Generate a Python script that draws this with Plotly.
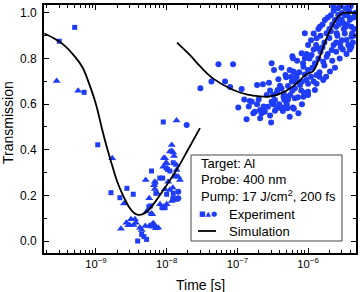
import plotly.graph_objects as go

# ---------------- data ----------------
sq_t = [3.03e-10, 5.0e-10, 6.8e-10, 1.06e-9, 8.96e-9, 1.63e-9, 2.18e-9, 2.74e-9, 3.37e-9,
        3.89e-9, 4.43e-9, 4.77e-9, 5.2e-9, 6.1e-9, 5.9e-9, 8.6e-9, 8.0e-9, 8.8e-9, 9.8e-9,
        1.03e-8, 1.11e-8, 1.0e-8, 9.5e-9, 1.24e-8, 1.31e-8, 1.39e-8, 7.06e-9, 1.24e-8,
        5.6e-9, 6.9e-9]
sq_v = [0.876, 0.937, 0.652, 0.422, 0.522, 0.212, 0.19, 0.231, 0.205,
        0.0, 0.029, 0.019, 0.007, 0.307, 0.154, 0.146, 0.276, 0.276, 0.321,
        0.314, 0.307, 0.205, 0.146, 0.343, 0.285, 0.183, 0.209, 0.209,
        0.15, 0.255]

tri_t = [2.78e-10, 5.6e-10, 1.7e-9, 5.05e-9, 2.49e-9, 2.26e-9, 2.86e-9, 3.13e-9, 3.56e-9,
         3.68e-9, 4.19e-9, 4.98e-9, 5.67e-9, 6.61e-9, 7.6e-9, 5.67e-9, 6.25e-9, 6.61e-9,
         8.04e-9, 9.1e-9, 9.8e-9, 9.46e-9, 1.0e-8, 1.18e-8, 1.27e-8, 1.22e-8, 1.18e-8,
         1.38e-8, 1.18e-8, 1.11e-8, 1.24e-8, 9.5e-9, 1.0e-8, 1.38e-8, 8.96e-9, 1.38e-8,
         6.8e-9, 1.05e-8, 1.46e-8, 1.54e-8, 6.8e-9, 1.11e-8, 8.96e-9, 6.1e-9, 6.45e-9,
         7.06e-9, 6.3e-9, 5.2e-9, 3.4e-9, 4.43e-9, 6.1e-9, 2.7e-9, 3.0e-9, 7.3e-9]
tri_v = [0.702, 0.659, 0.363, 0.268, 0.165, 0.054, 0.069, 0.095, 0.095,
         0.08, 0.058, 0.066, 0.066, 0.073, 0.058, 0.187, 0.117, 0.244,
         0.161, 0.364, 0.343, 0.227, 0.161, 0.395, 0.373, 0.234, 0.175,
         0.528, 0.421, 0.392, 0.388, 0.363, 0.341, 0.333, 0.326, 0.311,
         0.26, 0.26, 0.282, 0.268, 0.228, 0.224, 0.15, 0.121, 0.078,
         0.056, 0.063, 0.129, 0.07, 0.048, 0.07, 0.08, 0.07, 0.21]

circ_t = [1.92e-8, 1.46e-8, 1.24e-8, 1.46e-8,
          3.0e-8, 4.3e-8, 5.4e-8, 8.7e-8, 6.7e-8, 7.9e-8,
          1.15e-7, 1.25e-7, 1.5e-7, 1.6e-7, 2.0e-7, 1.77e-7, 1.03e-7, 1.35e-7, 2.1e-7, 2.2e-7,
          1.9e-7, 2.3e-7, 2.8e-7, 2.6e-7, 3.05e-7, 3.3e-7, 2.7e-7, 3.05e-7, 3.4e-7, 3.8e-7,
          4.0e-7, 4.2e-7, 3.7e-7, 4.5e-7, 5.0e-7, 5.2e-7, 4.8e-7, 5.9e-7, 6.5e-7, 6.1e-7,
          7.0e-7, 5.5e-7, 6.9e-7, 4.2e-7, 5.1e-7, 5.5e-7, 1.68e-7, 2.1e-7, 3.4e-7, 2.45e-7,
          7.3e-7, 3.6e-7, 4.9e-7, 4.9e-7, 7.7e-7, 4.5e-7, 6.5e-7, 6.2e-7, 6.9e-7, 8.1e-7,
          9.0e-7, 8.6e-7, 9.5e-7, 9.0e-7,
          1.0e-6, 1.0e-6, 1.12e-6, 1.25e-6, 1.32e-6, 1.25e-6, 1.64e-6, 2.04e-6, 1.64e-6, 1.39e-6,
          1.83e-6, 2.16e-6, 1.32e-6, 1.47e-6, 1.73e-6, 2.27e-6, 2.83e-6, 3.7e-6, 3.9e-6, 4.1e-6,
          4.1e-6, 2.54e-6, 2.83e-6, 3.5e-6, 1.83e-6, 2.4e-6, 3.15e-6, 3.3e-6, 2.67e-6,
          2.3e-6, 2.6e-6, 3.0e-6, 3.4e-6, 3.8e-6, 2.1e-6, 3.6e-6, 4.0e-6, 2.9e-6,
          1.6e-6, 1.9e-6, 2.2e-6, 2.5e-6, 2.8e-6, 3.2e-6, 3.6e-6, 4.1e-6, 2.0e-6, 1.4e-6, 3.9e-6, 2.7e-6,
          1.1e-6, 1.3e-6, 1.5e-6, 1.7e-6, 2.0e-6, 2.3e-6, 2.6e-6, 3.0e-6, 3.3e-6, 3.7e-6, 4.2e-6,
          1.2e-6, 2.1e-6, 2.9e-6, 1.6e-6, 3.9e-6,
          8.5e-7, 9.5e-7, 1.05e-6, 1.15e-6, 1.4e-6, 1.5e-6, 1.7e-6, 1.9e-6, 2.2e-6, 2.5e-6, 2.8e-6,
          3.1e-6, 3.5e-6, 2.4e-6, 1.2e-6,
          5.8e-7, 6.6e-7, 7.5e-7, 8.2e-7, 9.0e-7, 1.0e-6, 1.1e-6, 1.2e-6, 1.45e-6, 1.8e-6, 8.0e-7,
          5.2e-7, 6.0e-7,
          3.2e-7, 3.9e-7, 4.6e-7, 5.6e-7, 7.2e-7, 8.8e-7, 1.0e-6, 2.9e-7, 3.6e-7,
          1.45e-7, 1.9e-7, 2.35e-7, 2.9e-7, 3.2e-7, 4.4e-7, 6.3e-7, 8.2e-7, 3.0e-7,
          4.2e-7, 6.0e-7, 5.0e-7, 6.1e-7, 4.3e-7, 8.6e-7, 1.0e-6, 1.32e-6, 1.45e-6,
          4.4e-6, 4.5e-6, 4.3e-6, 4.6e-6, 4.4e-6, 3.4e-6, 3.0e-6, 2.5e-6]
circ_v = [0.509, 0.216, 0.187, 0.187,
          0.670, 0.699, 0.775, 0.775, 0.699, 0.675,
          0.667, 0.621, 0.614, 0.611, 0.621, 0.567, 0.586, 0.534, 0.575, 0.56,
          0.684, 0.687, 0.694, 0.64, 0.779, 0.75, 0.589, 0.611, 0.618, 0.709,
          0.681, 0.67, 0.662, 0.648, 0.633, 0.621, 0.728, 0.699, 0.67, 0.801,
          0.791, 0.75, 0.735, 0.582, 0.582, 0.545, 0.56, 0.538, 0.571, 0.567,
          0.56, 0.582, 0.718, 0.611, 0.684, 0.633, 0.626, 0.743, 0.718, 0.823,
          0.801, 0.764, 0.706, 0.911,
          0.86, 0.75, 0.816, 0.779, 0.728, 0.662, 0.706, 0.743, 0.786, 0.845,
          0.808, 0.838, 0.889, 0.94, 0.969, 1.028, 1.028, 1.028, 0.977, 0.896,
          0.852, 0.911, 0.867, 0.882, 0.911, 0.969, 0.955, 0.991, 0.991,
          1.01, 1.02, 1.0, 1.02, 1.01, 0.99, 0.99, 1.03, 1.03,
          0.95, 0.98, 0.95, 0.94, 0.97, 0.93, 0.95, 0.94, 0.93, 0.93, 0.97, 0.95,
          0.88, 0.86, 0.9, 0.87, 0.89, 0.86, 0.9, 0.88, 0.91, 0.86, 0.91,
          0.91, 0.92, 0.85, 0.85, 0.84,
          0.78, 0.82, 0.8, 0.76, 0.8, 0.83, 0.77, 0.82, 0.79, 0.83, 0.8,
          0.84, 0.82, 0.76, 0.84,
          0.72, 0.7, 0.74, 0.7, 0.73, 0.69, 0.72, 0.7, 0.74, 0.72, 0.66,
          0.68, 0.66,
          0.64, 0.6, 0.62, 0.64, 0.63, 0.65, 0.64, 0.66, 0.65,
          0.59, 0.6, 0.59, 0.55, 0.6, 0.57, 0.58, 0.6, 0.52,
          0.76, 0.81, 0.6, 0.585, 0.585, 0.633, 0.655, 0.69, 0.72,
          0.98, 0.93, 0.87, 1.0, 0.9, 0.94, 0.97, 0.87]

sim1_t = [1.86e-10, 2.5e-10, 3.5e-10, 5e-10, 6.5e-10, 8e-10, 1.0e-9, 1.2e-9, 1.4e-9, 1.7e-9,
          2.0e-9, 2.5e-9, 3.0e-9, 3.5e-9, 4.0e-9, 4.6e-9, 5.5e-9, 7.0e-9, 1.0e-8, 1.4e-8,
          2.0e-8, 2.96e-8]
sim1_v = [0.91, 0.89, 0.86, 0.81, 0.76, 0.69, 0.60, 0.50, 0.42, 0.33,
          0.26, 0.19, 0.145, 0.122, 0.115, 0.118, 0.135, 0.175, 0.245, 0.315,
          0.40, 0.495]

sim2_t = [1.4e-8, 2.14e-8, 2.96e-8, 4.56e-8, 8.75e-8, 1.35e-7, 2.09e-7, 2.89e-7, 4.46e-7,
          6.11e-7, 7.68e-7, 9.33e-7, 1.18e-6, 1.47e-6, 1.83e-6, 2.27e-6, 2.67e-6, 3.15e-6,
          4.76e-6]
sim2_v = [0.87, 0.815, 0.767, 0.712, 0.662, 0.643, 0.634, 0.634, 0.652,
          0.678, 0.705, 0.73, 0.745, 0.81, 0.89, 0.95, 0.985, 1.0,
          1.0]

BLUE = "#1f3cf8"
FONT = "Liberation Sans, Arial, Helvetica, sans-serif"

fig = go.Figure()
fig.add_trace(go.Scatter(x=circ_t, y=circ_v, mode="markers",
                         marker=dict(symbol="circle", size=6, color=BLUE), showlegend=False))
fig.add_trace(go.Scatter(x=sq_t, y=sq_v, mode="markers",
                         marker=dict(symbol="square", size=5, color=BLUE), showlegend=False))
fig.add_trace(go.Scatter(x=tri_t, y=tri_v, mode="markers",
                         marker=dict(symbol="triangle-up", size=7, color=BLUE), showlegend=False))
fig.add_trace(go.Scatter(x=sim1_t, y=sim1_v, mode="lines",
                         line=dict(color="black", width=1.8, shape="spline"), showlegend=False))
fig.add_trace(go.Scatter(x=sim2_t, y=sim2_v, mode="lines",
                         line=dict(color="black", width=1.8, shape="spline"), showlegend=False))

axis_common = dict(showline=True, linecolor="black", linewidth=1.6, mirror="ticks",
                   ticks="inside", ticklen=5, tickwidth=1.2, tickcolor="black",
                   showgrid=False, zeroline=False, automargin=False)

fig.update_xaxes(type="log", range=[-9.735, -5.322], dtick=1, exponentformat="power",
                 tickfont=dict(size=9, family=FONT, color="black"),
                 minor=dict(ticks="inside", ticklen=3, dtick="D1", tickcolor="black", tickwidth=1),
                 **axis_common)
fig.update_yaxes(range=[-0.0526, 1.035], dtick=0.2, tickformat=".1f",
                 tickfont=dict(size=12, family=FONT, color="black"),
                 ticklabelstandoff=3,
                 minor=dict(ticks="inside", ticklen=3, dtick=0.1, tickcolor="black", tickwidth=1),
                 **axis_common)

# geometry of plot area in pixels -> paper coords
W, H, L, T = 312.0, 248.0, 44.0, 5.0
def px(x):
    return (x - L) / W
def py(y):
    return (T + H - y) / H

# axis titles
fig.add_annotation(xref="paper", yref="paper", x=px(200.5), y=py(285),
                   text="Time [s]", showarrow=False, xanchor="center", yanchor="middle",
                   font=dict(size=14, family=FONT, color="black"))
fig.add_annotation(xref="paper", yref="paper", x=px(8), y=py(123),
                   text="Transmission", showarrow=False, xanchor="center", yanchor="middle",
                   textangle=-90, font=dict(size=14, family=FONT, color="black"))

# legend box
fig.add_shape(type="rect", xref="paper", yref="paper",
              x0=px(191), x1=px(342), y0=py(241), y1=py(155),
              line=dict(color="#444444", width=1), fillcolor="white", layer="above")
lines = ["Target: Al", "Probe: 400 nm", "Pump: 17 J/cm<sup>2</sup>, 200 fs"]
for i, s in enumerate(lines):
    fig.add_annotation(xref="paper", yref="paper", x=px(199), y=py(163 + i * 16.5),
                       text=s, showarrow=False, xanchor="left", yanchor="middle",
                       font=dict(size=13, family=FONT, color="black"))
fig.add_annotation(xref="paper", yref="paper", x=px(197), y=py(214),
                   text="■▲●", showarrow=False, xanchor="left", yanchor="middle",
                   font=dict(size=7, family="DejaVu Sans", color=BLUE))
fig.add_annotation(xref="paper", yref="paper", x=px(227), y=py(214),
                   text="Experiment", showarrow=False, xanchor="left", yanchor="middle",
                   font=dict(size=13, family=FONT, color="black"))
fig.add_shape(type="line", xref="paper", yref="paper", x0=px(198), x1=px(216),
              y0=py(231), y1=py(231), line=dict(color="black", width=1.8), layer="above")
fig.add_annotation(xref="paper", yref="paper", x=px(227), y=py(231),
                   text="Simulation", showarrow=False, xanchor="left", yanchor="middle",
                   font=dict(size=13, family=FONT, color="black"))

fig.update_layout(width=360, height=292, margin=dict(l=44, r=4, t=5, b=39),
                  paper_bgcolor="white", plot_bgcolor="white",
                  font=dict(family=FONT, color="black"))

fig.write_html("out.html", config={"displayModeBar": False},
               post_script="document.body.style.margin='0';document.body.style.overflow='hidden';")
